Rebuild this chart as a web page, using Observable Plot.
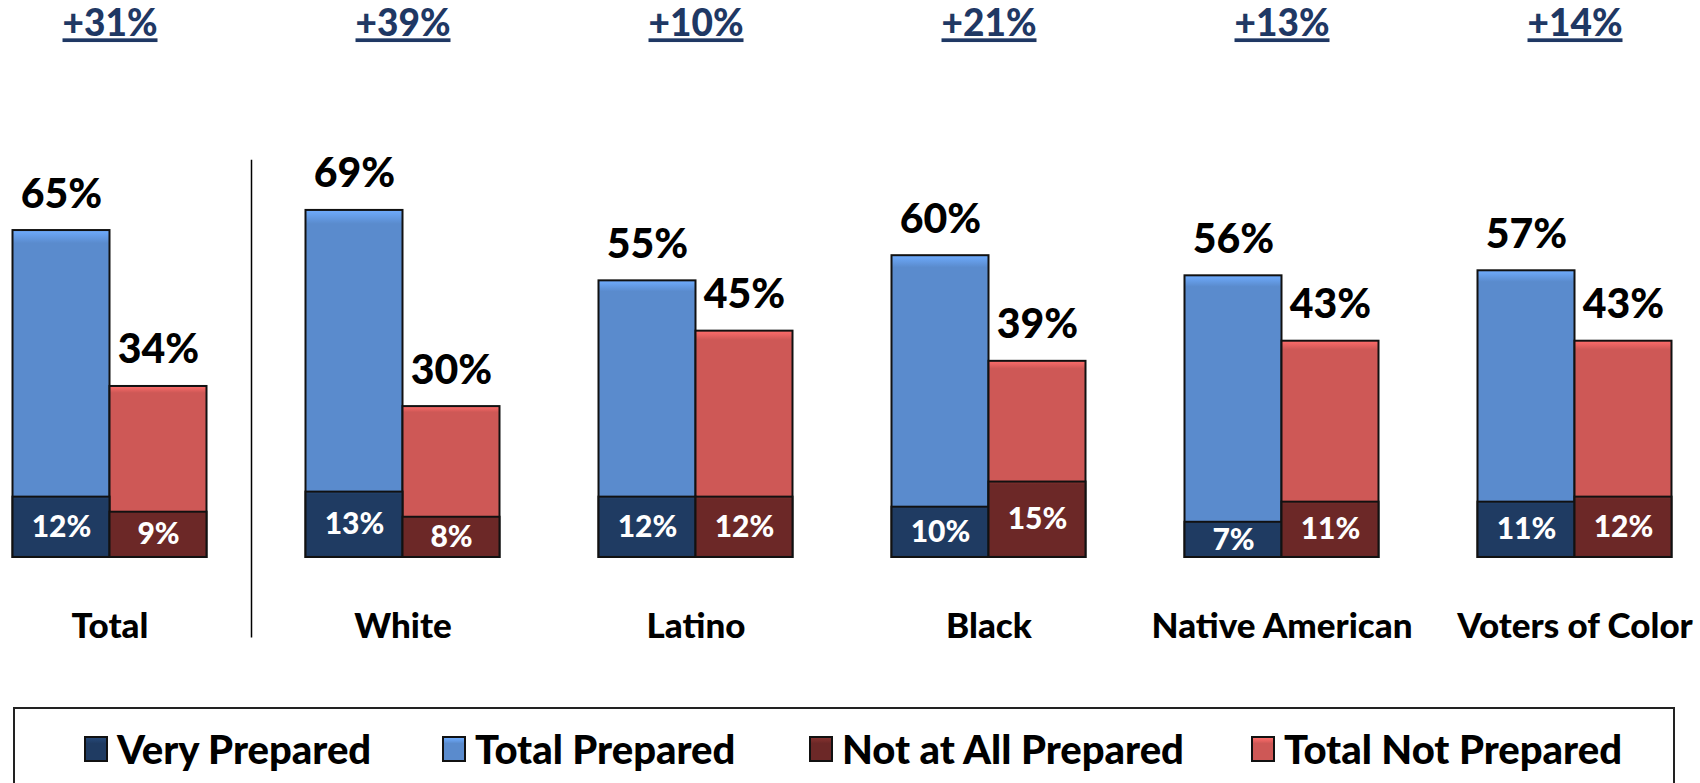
<!DOCTYPE html>
<html><head><meta charset="utf-8">
<script src="https://cdn.jsdelivr.net/npm/d3@7"></script>
<script src="https://cdn.jsdelivr.net/npm/@observablehq/plot@0.6"></script>
<style>
body{margin:0;background:#fff;font-family:Lato,"Open Sans",sans-serif;}
#wrap{position:relative;width:1700px;height:783px;overflow:hidden;background:#fff;}
#legend{position:absolute;left:13px;top:707px;width:1662px;height:120px;border:2px solid #222;box-sizing:border-box;}
.item{position:absolute;top:18px;height:44px;display:flex;align-items:center;font-weight:900;font-size:40px;color:#000;white-space:nowrap;}
.sw{width:24px;height:26px;border:2px solid #111;margin-right:9px;box-sizing:border-box;}
</style></head><body><div id="wrap"><div id="chart"></div><div id="legend"></div></div>
<script>
const categories = ["Total", "White", "Latino", "Black", "Native American", "Voters of Color"];
const totalPrepared = [65, 69, 55, 60, 56, 57];
const veryPrepared = [12, 13, 12, 10, 7, 11];
const totalNotPrepared = [34, 30, 45, 39, 43, 43];
const notAtAllPrepared = [9, 8, 12, 15, 11, 12];
const diffLabels = ["+31%", "+39%", "+10%", "+21%", "+13%", "+14%"];
const groups = ["Prepared", "Not Prepared"];
const legendLabels = ["Very Prepared", "Total Prepared", "Not at All Prepared", "Total Not Prepared"];
const lightColors = {"Prepared": "#5A8BCD", "Not Prepared": "#CE5856"};
const darkColors = {"Prepared": "#1F3B62", "Not Prepared": "#6C2827"};
const legendColors = ["#1F3B62", "#5A8BCD", "#6C2827", "#CE5856"];

const bars = [];
categories.forEach((c, i) => {
  bars.push({cat: c, grp: "Prepared", total: totalPrepared[i], strong: veryPrepared[i]});
  bars.push({cat: c, grp: "Not Prepared", total: totalNotPrepared[i], strong: notAtAllPrepared[i]});
});
const heads = categories.map((c, i) => ({cat: c, label: diffLabels[i]}));

// gradient ids for a light bevel look
const gid = c => "g" + c.replace("#", "");
const grad = c => `url(#${gid(c)})`;

const chart = Plot.plot({
  width: 1700, height: 700,
  marginTop: 54, marginBottom: 143, marginLeft: 10.5, marginRight: 27.4,
  fx: {domain: categories, paddingInner: 0.335, paddingOuter: 0, axis: null},
  x: {domain: groups, padding: 0, axis: null},
  y: {domain: [0, 100], axis: null},
  style: {fontFamily: "Lato, 'Open Sans', sans-serif", background: "white", overflow: "visible"},
  marks: [
    Plot.barY(bars, {fx: "cat", x: "grp", y1: 0, y2: "total", fill: d => grad(lightColors[d.grp]), stroke: "#111", strokeWidth: 2}),
    Plot.barY(bars, {fx: "cat", x: "grp", y1: 0, y2: "strong", fill: d => grad(darkColors[d.grp]), stroke: "#111", strokeWidth: 2}),
    Plot.text(bars, {fx: "cat", x: "grp", y: "total", text: d => d.total + "%", lineAnchor: "bottom", dy: -23, fontSize: 41, fontWeight: 900, fill: "#000"}),
    Plot.text(bars, {fx: "cat", x: "grp", y: d => d.strong / 2, text: d => d.strong + "%", lineAnchor: "middle", fontSize: 30, fontWeight: 900, fill: "#fff"}),
    Plot.text(heads, {fx: "cat", text: "label", frameAnchor: "top", dy: -30, lineAnchor: "middle", fontSize: 37, fontWeight: 900, fill: "#1F3864"}),
    Plot.text(categories, {fx: d => d, text: d => d, frameAnchor: "bottom", dy: 69, lineAnchor: "middle", fontSize: 35, fontWeight: 900, fill: "#000"}),
    Plot.ruleX(["Total"], {fx: d => d, x: () => "Not Prepared", dx: 93, y1: -16, y2: 79, stroke: "#000", strokeWidth: 1.5})
  ]
});

// gradient definitions (light top edge, slightly darker bottom)
const defs = d3.select(chart).insert("defs", ":first-child");
[...Object.values(lightColors), ...Object.values(darkColors)].forEach(c => {
  const base = d3.color(c);
  const g = defs.append("linearGradient").attr("id", gid(c)).attr("x1", 0).attr("y1", 0).attr("x2", 0).attr("y2", 1);
  g.append("stop").attr("offset", "0%").attr("stop-color", base.brighter(0.6));
  g.append("stop").attr("offset", "4%").attr("stop-color", c);
  g.append("stop").attr("offset", "96%").attr("stop-color", c);
  g.append("stop").attr("offset", "100%").attr("stop-color", base.darker(0.3));
});

d3.select(chart).selectAll("text").filter(function() { return (this.textContent || "").startsWith("+"); })
  .attr("text-decoration", "underline");
document.getElementById("chart").appendChild(chart);

const legend = document.getElementById("legend");
const swLeft = [69, 427, 794, 1236];
legendLabels.forEach((t, i) => {
  const it = document.createElement("div");
  it.className = "item";
  it.style.left = swLeft[i] + "px";
  const sw = document.createElement("div");
  sw.className = "sw";
  sw.style.background = `linear-gradient(to bottom, ${d3.color(legendColors[i]).brighter(0.6)} 0%, ${legendColors[i]} 25%, ${legendColors[i]} 100%)`;
  it.appendChild(sw);
  it.appendChild(document.createTextNode(t));
  legend.appendChild(it);
});
</script></body></html>
